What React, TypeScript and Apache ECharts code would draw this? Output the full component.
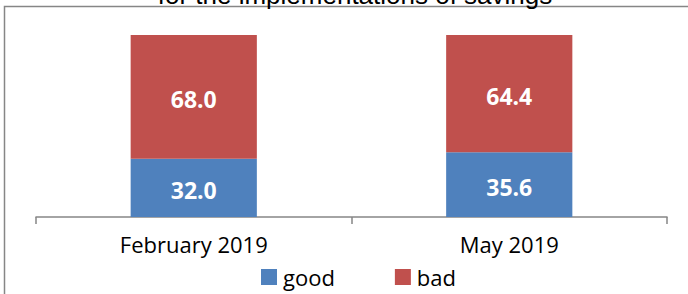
import React, { useEffect, useRef } from "react";
import * as echarts from "echarts";

const categories = ["February 2019", "May 2019"];
const goodValues = [32.0, 35.6];
const badValues = [68.0, 64.4];
const seriesNames = ["good", "bad"];
const titleText = "for the implementations of savings";

export default function App() {
  const ref = useRef<HTMLDivElement>(null);
  useEffect(() => {
    const chart = echarts.init(ref.current!, null, { renderer: "svg" });
    const font = "'Open Sans', Lato, sans-serif";
    const labelCfg = {
      show: true,
      position: "inside",
      color: "#fff",
      fontWeight: "bold",
      fontSize: 23,
      fontFamily: font,
      offset: [0, 2],
      formatter: (p: any) => Number(p.value).toFixed(1),
    };
    chart.setOption({
      animation: false,
      backgroundColor: "#ffffff",
      graphic: [
        {
          type: "rect",
          shape: { x: 4.5, y: 6.5, width: 700, height: 300 },
          style: { fill: "none", stroke: "#868686", lineWidth: 1.5 },
          z: -1,
        },
        {
          type: "text",
          x: 355,
          y: -5,
          style: {
            text: titleText,
            fontFamily: "Arial, 'Liberation Sans', sans-serif",
            fontSize: 26,
            fill: "#000",
            textAlign: "center",
            textVerticalAlign: "middle",
          },
        },
      ],
      grid: { left: 36, right: 21, top: 35, bottom: 77 },
      xAxis: {
        type: "category",
        data: categories,
        axisLine: { lineStyle: { color: "#868686", width: 1.5 } },
        axisTick: { show: true, length: 7, alignWithLabel: false, lineStyle: { color: "#868686", width: 1.5 } },
        axisLabel: { color: "#000", fontSize: 22, fontFamily: font, margin: 16 },
      },
      yAxis: {
        type: "value",
        min: 0,
        max: 100,
        show: false,
        splitLine: { show: false },
      },
      legend: {
        data: seriesNames,
        left: 261,
        top: 266,
        padding: 0,
        itemWidth: 16,
        itemHeight: 16,
        itemGap: 60,
        icon: "rect",
        textStyle: { color: "#000", fontSize: 22, fontFamily: font, padding: [0, 0, 0, 1] },
      },
      series: [
        {
          name: seriesNames[0],
          type: "bar",
          stack: "total",
          data: goodValues,
          barWidth: "40%",
          itemStyle: { color: "#4F81BD" },
          label: labelCfg,
        },
        {
          name: seriesNames[1],
          type: "bar",
          stack: "total",
          data: badValues,
          barWidth: "40%",
          itemStyle: { color: "#C0504D" },
          label: labelCfg,
        },
      ],
    });
    return () => chart.dispose();
  }, []);
  return <div ref={ref} style={{ width: 688, height: 294, position: "absolute", left: 0, top: 0 }} />;
}
